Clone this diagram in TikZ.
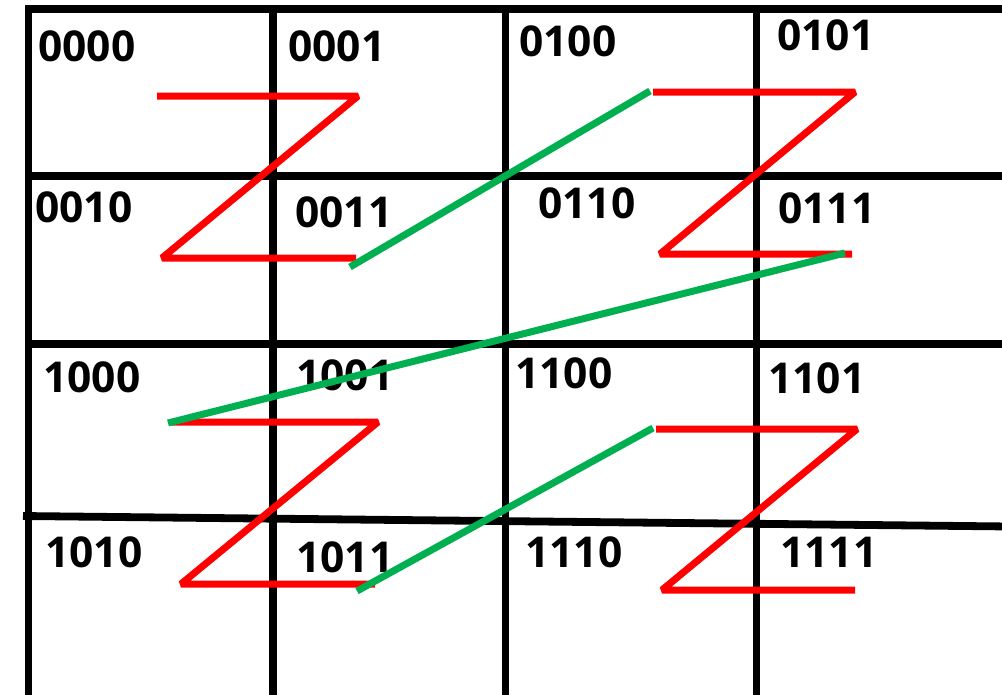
\documentclass[tikz,border=0pt]{standalone}
\usepackage{fontspec}
\setmainfont{Open Sans}
\definecolor{zred}{HTML}{FF0000}
\definecolor{zgreen}{HTML}{00B050}
\begin{document}
\begin{tikzpicture}[x=1pt,y=-1pt,
  gridline/.style={black,line width=7.8pt},
  zline/.style={zred,line width=7pt,line join=bevel},
  gline/.style={zgreen,line width=7pt},
  lab/.style={anchor=base west,inner sep=0pt,font=\fontsize{42.5}{43}\selectfont\bfseries}]
\useasboundingbox (0,0) rectangle (1002,694);
\fill[white] (0,0) rectangle (1002,694);
% grid
\draw[gridline] (25,9) -- (1010,9);
\draw[gridline] (32,176) -- (1010,176);
\draw[gridline] (28,344) -- (1010,344);
\draw[gridline] (23,516) -- (1010,526.5);
\foreach \x in {28.5,273,505.5,756.5}
  \draw[gridline] (\x,5.5) -- (\x,700);
% labels
\node[lab] (n0000) at (38,61) {0000};
\node[lab] (n0001) at (288,61) {0001};
\node[lab] (n0100) at (519,56) {0100};
\node[lab] (n0101) at (777,50) {0101};
\node[lab] (n0010) at (35,222) {0010};
\node[lab] (n0011) at (295,227) {0011};
\node[lab] (n0110) at (538,218) {0110};
\node[lab] (n0111) at (778,223) {0111};
\node[lab] (n1000) at (43,392) {1000};
\node[lab] (n1001) at (296,390) {1001};
\node[lab] (n1100) at (515,388) {1100};
\node[lab] (n1101) at (768,393) {1101};
\node[lab] (n1010) at (45,567) {1010};
\node[lab] (n1011) at (296,572) {1011};
\node[lab] (n1110) at (525,567) {1110};
\node[lab] (n1111) at (780,567) {1111};
% Z curve points
\coordinate (a1) at (157,96);  \coordinate (a2) at (358,96);
\coordinate (a3) at (162,258); \coordinate (a4) at (356,258);
\coordinate (b1) at (653,92);  \coordinate (b2) at (855,92);
\coordinate (b3) at (660,254); \coordinate (b4) at (852,254);
\coordinate (c1) at (172,422); \coordinate (c2) at (378,422);
\coordinate (c3) at (181,584); \coordinate (c4) at (375,584);
\coordinate (d1) at (656,429); \coordinate (d2) at (857,429);
\coordinate (d3) at (662,590); \coordinate (d4) at (855,590);
\draw[zline] (a1) -- (a2) -- (a3) -- (a4);
\draw[zline] (b1) -- (b2) -- (b3) -- (b4);
\draw[zline] (c1) -- (c2) -- (c3) -- (c4);
\draw[zline] (d1) -- (d2) -- (d3) -- (d4);
% green connectors
\coordinate (g1s) at (350,267); \coordinate (g1e) at (650,91);
\coordinate (g2s) at (845,253); \coordinate (g2e) at (168,423);
\coordinate (g3s) at (357,591); \coordinate (g3e) at (653,428);
\draw[gline] (g1s) -- (g1e);
\draw[gline] (g2s) -- (g2e);
\draw[gline] (g3s) -- (g3e);
\end{tikzpicture}
\end{document}
